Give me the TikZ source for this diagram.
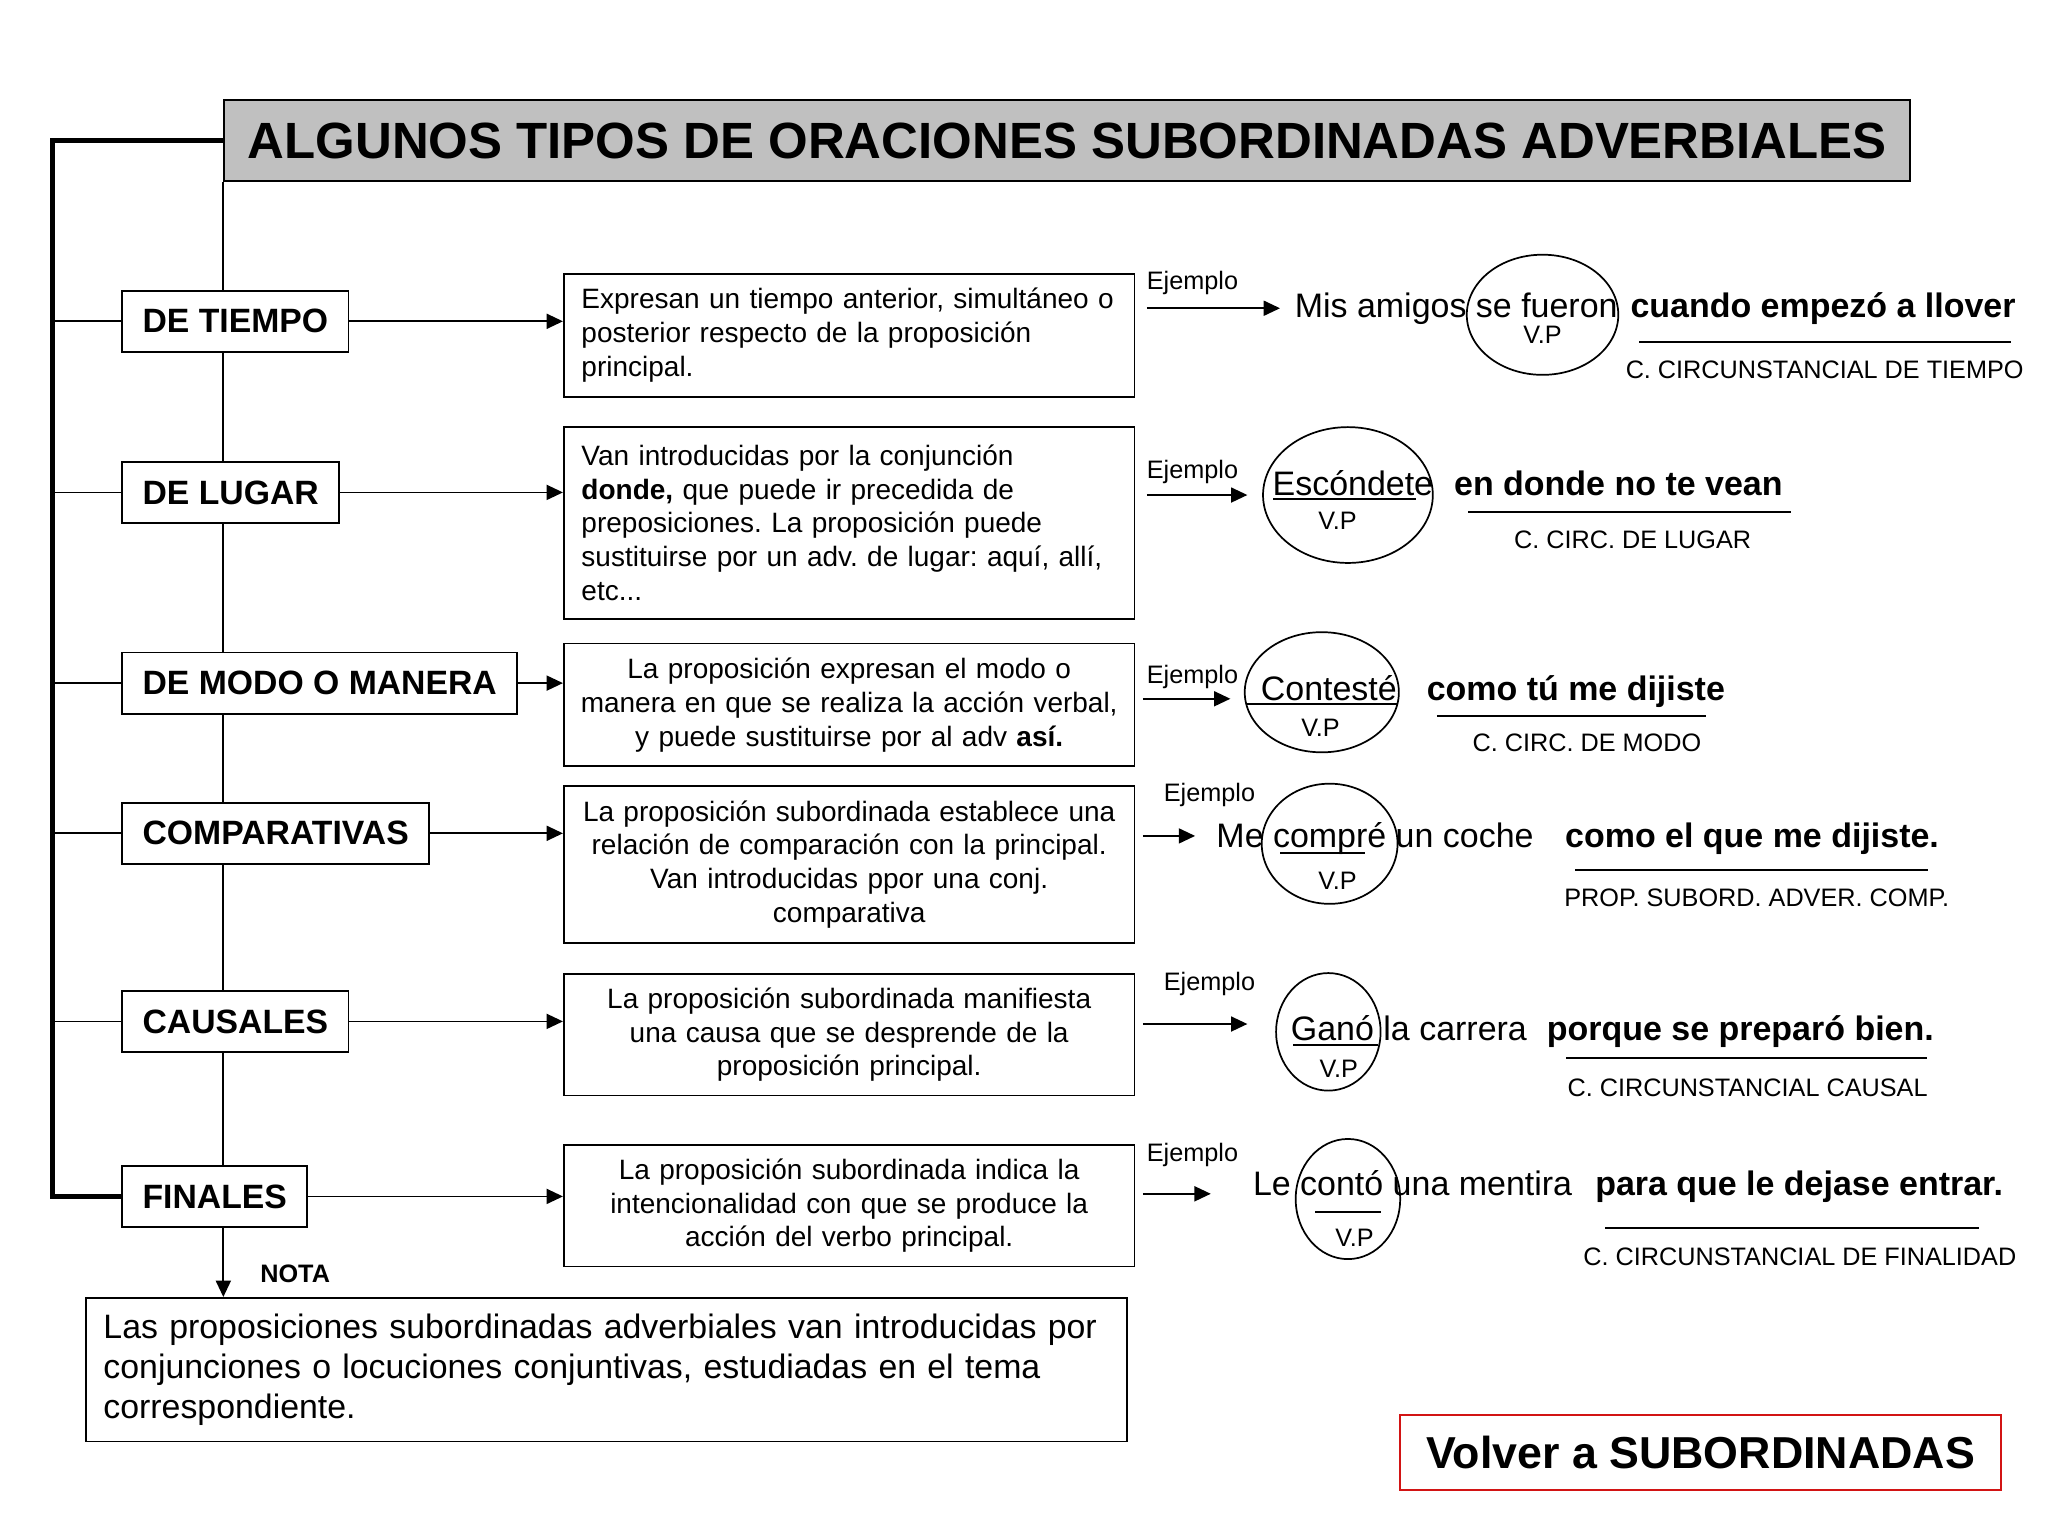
\documentclass[tikz,border=0pt]{standalone}
\usepackage{fontspec}
\setmainfont{Liberation Sans}
\usetikzlibrary{arrows.meta,backgrounds}

\definecolor{gris}{RGB}{192,192,192}
\definecolor{rojo}{RGB}{210,20,20}

\tikzset{
    linea/.style={line width=0.75pt},
    flecha/.style={linea,-{Triangle[length=0.25cm,width=0.23cm]}},
    tipo/.style={draw,fill=white,line width=0.8pt,anchor=west,minimum height=0.94cm,
        inner xsep=0.31cm,font=\fontsize{14.7}{17}\selectfont\bfseries},
    caja/.style={draw,fill=white,line width=0.8pt,anchor=north west,text width=8.5cm,
        inner xsep=0.12cm,inner ysep=0.16cm,font=\fontsize{12.2}{14.7}\selectfont},
    cajaizq/.style={caja,align=left,text width=8.2cm,inner xsep=0.27cm},
    ejemplo/.style={font=\fontsize{11}{13}\selectfont},
    frase/.style={anchor=base west,inner sep=0pt,font=\fontsize{14.8}{17}\selectfont},
    negrita/.style={frase,font=\fontsize{14.8}{17}\selectfont\bfseries},
    funcion/.style={font=\fontsize{11}{13}\selectfont},
}

\begin{document}
\frenchspacing
\begin{tikzpicture}[x=0.02cm,y=-0.02cm]
    \useasboundingbox (0,0) rectangle (1568,1176);

    % Titulo
    \node[draw,fill=gris,line width=0.8pt,anchor=north west,minimum width=25.82cm,minimum height=1.24cm,
        font=\fontsize{22.2}{26}\selectfont\bfseries] (titulo) at (171,76)
        {ALGUNOS TIPOS DE ORACIONES SUBORDINADAS ADVERBIALES};

    % Tipos
    \node[tipo] (tiempo) at (93,246) {DE TIEMPO};
    \node[tipo] (lugar) at (93,377) {DE LUGAR};
    \node[tipo] (modo) at (93,523) {DE MODO O MANERA};
    \node[tipo] (comparativas) at (93,638) {COMPARATIVAS};
    \node[tipo] (causales) at (93,782) {CAUSALES};
    \node[tipo] (finales) at (93,916) {FINALES};
    \coordinate (izq) at (40,500);

    % Explicaciones
    \node[cajaizq,minimum height=1.88cm] (d1) at (431,209)
        {Expresan un tiempo anterior, simultáneo o\\ posterior respecto de la proposición\\ principal.};
    \node[cajaizq,minimum height=2.94cm] (d2) at (431,326)
        {Van introducidas por la conjunción\\ \textbf{donde,} que puede ir precedida de\\ preposiciones. La proposición puede\\ sustituirse por un adv. de lugar: aquí, allí,\\ etc...};
    \node[caja,align=center,minimum height=1.88cm] (d3) at (431,492)
        {La proposición expresan el modo o\\ manera en que se realiza la acción verbal,\\ y puede sustituirse por al adv \textbf{así.}};
    \node[caja,align=center,minimum height=2.40cm] (d4) at (431,601)
        {La proposición subordinada establece una\\ relación de comparación con la principal.\\ Van introducidas ppor una conj.\\ comparativa};
    \node[caja,align=center,minimum height=1.86cm] (d5) at (431,745)
        {La proposición subordinada manifiesta\\ una causa que se desprende de la\\ proposición principal.};
    \node[caja,align=center,minimum height=1.86cm] (d6) at (431,876)
        {La proposición subordinada indica la\\ intencionalidad con que se produce la\\ acción del verbo principal.};

    % Nota
    \node[font=\fontsize{11}{13}\selectfont\bfseries] (notatit) at (226,975) {NOTA};
    \node[draw,line width=0.8pt,anchor=north west,text width=15.4cm,inner xsep=0.27cm,minimum height=2.2cm,
        align=left,font=\fontsize{14.75}{17.6}\selectfont] (nota) at (65,993)
        {Las proposiciones subordinadas adverbiales van introducidas por\\ conjunciones o locuciones conjuntivas, estudiadas en el tema\\ correspondiente.};

    % Lineas de fondo
    \begin{scope}[on background layer]
        \draw[linea] (titulo.south west) -- (titulo.south west |- finales.north);
        \draw[line width=2.3pt] (titulo.west) -- (titulo.west -| izq) -- (finales.west -| izq) -- (finales.west);
        \foreach \n in {tiempo,lugar,modo,comparativas,causales} {
            \draw[linea] (\n.west -| izq) -- (\n.west);
        }
    \end{scope}
    \foreach \a/\b in {tiempo/d1,lugar/d2,modo/d3,comparativas/d4,causales/d5,finales/d6} {
        \draw[flecha] (\a.east) -- (\b.west |- \a.east);
    }
    \draw[flecha] (finales.south -| titulo.south west) -- (nota.north -| titulo.south west);

    % Ejemplos
    \foreach \xe/\ye/\xa/\yf/\xf [count=\i] in {913/217/878/236/980,913/361/878/379/955,913/518/875/535/942,
                                               926/609/875/640/915,926/753/875/784/955,913/884/875/914/927} {
        \node[ejemplo] (ej\i) at (\xe,\ye) {Ejemplo};
        \coordinate (fa\i) at (\xa,\yf);
        \coordinate (fb\i) at (\xf,\yf);
        \draw[flecha] (fa\i) -- (fb\i);
    }

    % 1
    \node[frase] (s1) at (991,243) {Mis amigos se fueron};
    \node[negrita] (b1) at (1248,243) {cuando empezó a llover};
    \draw[linea] (1181,241) ellipse [x radius=58,y radius=46];
    \node[funcion] (v1) at (1181,256) {V.P};
    \draw[linea] (1255,262) -- (1540,262);
    \node[funcion] (c1) at (1397,283) {C. CIRCUNSTANCIAL DE TIEMPO};

    % 2
    \node[frase] (s2) at (974,379) {Escóndete};
    \node[negrita] (b2) at (1113,379) {en donde no te vean};
    \draw[linea] (975,382) -- (1084,382);
    \draw[linea] (1032,379) ellipse [x radius=65,y radius=52];
    \node[funcion] (v2) at (1024,399) {V.P};
    \draw[linea] (1124,392) -- (1371,392);
    \node[funcion] (c2) at (1250,413) {C. CIRC. DE LUGAR};

    % 3
    \node[frase] (s3) at (965,536) {Contesté};
    \node[negrita] (b3) at (1092,536) {como tú me dijiste};
    \draw[linea] (954,539) -- (1070,539);
    \draw[linea] (1012,530) ellipse [x radius=59,y radius=46];
    \node[funcion] (v3) at (1011,557) {V.P};
    \draw[linea] (1100,548) -- (1306,548);
    \node[funcion] (c3) at (1215,569) {C. CIRC. DE MODO};

    % 4
    \node[frase] (s4) at (931,649) {Me compré un coche};
    \node[negrita] (b4) at (1198,649) {como el que me dijiste.};
    \draw[linea] (980,653) -- (1045,653);
    \draw[linea] (1018,646) ellipse [x radius=52,y radius=46];
    \node[funcion] (v4) at (1024,674) {V.P};
    \draw[linea] (1206,666) -- (1476,666);
    \node[funcion] (c4) at (1345,687) {PROP. SUBORD. ADVER. COMP.};

    % 5
    \node[frase] (s5) at (988,797) {Ganó la carrera};
    \node[negrita] (b5) at (1184,797) {porque se preparó bien.};
    \draw[linea] (990,800) -- (1055,800);
    \draw[linea] (1017,790) ellipse [x radius=40,y radius=45];
    \node[funcion] (v5) at (1025,818) {V.P};
    \draw[linea] (1199,810) -- (1475,810);
    \node[funcion] (c5) at (1338,833) {C. CIRCUNSTANCIAL CAUSAL};

    % 6
    \node[frase] (s6) at (959,915) {Le contó una mentira};
    \node[negrita] (b6) at (1221,915) {para que le dejase entrar.};
    \draw[linea] (1007,928) -- (1057,928);
    \draw[linea] (1032,918) ellipse [x radius=40,y radius=46];
    \node[funcion] (v6) at (1037,948) {V.P};
    \draw[linea] (1229,940) -- (1515,940);
    \node[funcion] (c6) at (1378,962) {C. CIRCUNSTANCIAL DE FINALIDAD};

    % Volver
    \node[draw=rojo,line width=0.9pt,minimum width=9.2cm,minimum height=1.14cm,
        font=\fontsize{19.5}{23}\selectfont\bfseries] (volver) at (1302,1112) {Volver a SUBORDINADAS};
\end{tikzpicture}
\end{document}
